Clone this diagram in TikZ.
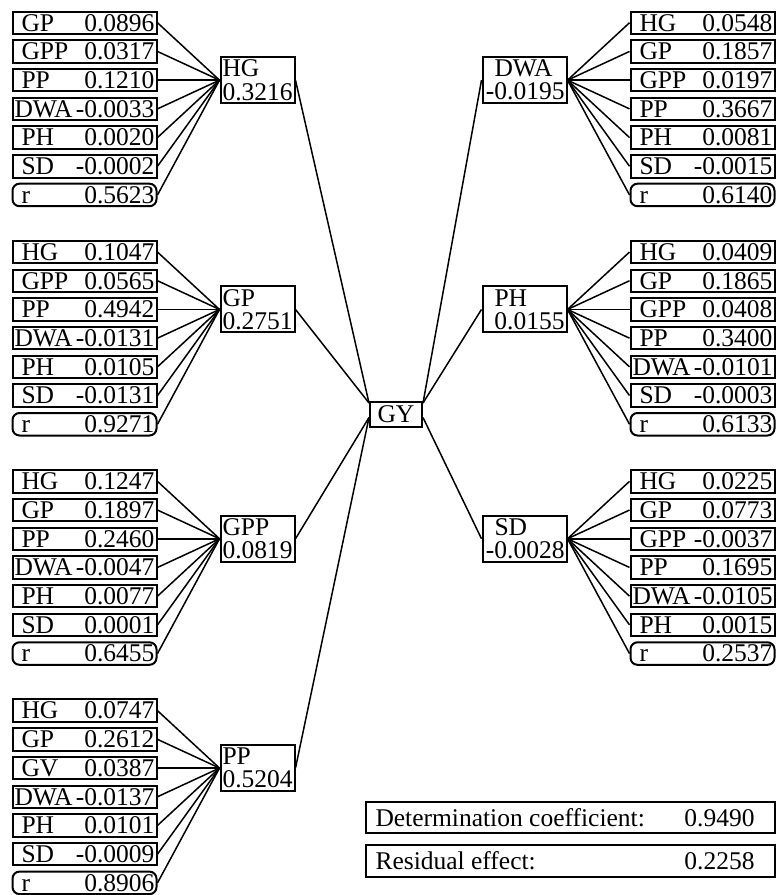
\documentclass[tikz,border=0pt]{standalone}
\usepackage{fontspec}
\setmainfont{Liberation Serif}
\usetikzlibrary{positioning}

\newcommand{\coef}[3][3.5pt]{\hbox to 70pt{\hskip#1\relax #2\hfil #3}}
\newcommand{\lpair}[2]{\vbox{\baselineskip=11.6pt\hbox to 35pt{#1\hfil}\hbox to 35pt{#2\hfil}}}
\newcommand{\rpair}[2]{\vbox{\baselineskip=11.6pt\hbox to 40pt{\hskip5pt\relax #1\hfil}\hbox to 40pt{\hfil #2}}}

\begin{document}
\begin{tikzpicture}[x=0.5pt,y=-0.5pt,node distance=14.35pt,
                    every node/.style={font=\fontsize{12.75}{11}\selectfont},
                    cell node/.style={draw,line width=1pt,inner xsep=1pt,inner ysep=1pt,
                                      text height=8.75pt,text depth=0.5pt},
                    ratio node/.style={cell node,rounded corners=3.5pt},
                    mid node/.style={draw,line width=1pt,inner sep=1pt,minimum height=23pt},
                    sum node/.style={draw,line width=1pt,inner xsep=1pt,minimum height=15.5pt},
                    link/.style={line width=0.75pt}]
\useasboundingbox (0,0) rectangle (776,895);

% HG
\node[cell node] (a1) at (84.5,22.75) {\coef{GP}{0.0896}};
\node[cell node] (a2) [below of=a1] {\coef{GPP}{0.0317}};
\node[cell node] (a3) [below of=a2] {\coef{PP}{0.1210}};
\node[cell node] (a4) [below of=a3] {\coef[0pt]{DWA}{-0.0033}};
\node[cell node] (a5) [below of=a4] {\coef{PH}{0.0020}};
\node[cell node] (a6) [below of=a5] {\coef{SD}{-0.0002}};
\node[ratio node] (a7) [below of=a6] {\coef{r}{0.5623}};
\node[mid node] (HG) [right=31pt of a3] {\lpair{HG}{0.3216}};

% GP
\node[cell node] (b1) at (84.5,252.05) {\coef{HG}{0.1047}};
\node[cell node] (b2) [below of=b1] {\coef{GPP}{0.0565}};
\node[cell node] (b3) [below of=b2] {\coef{PP}{0.4942}};
\node[cell node] (b4) [below of=b3] {\coef[0pt]{DWA}{-0.0131}};
\node[cell node] (b5) [below of=b4] {\coef{PH}{0.0105}};
\node[cell node] (b6) [below of=b5] {\coef{SD}{-0.0131}};
\node[ratio node] (b7) [below of=b6] {\coef{r}{0.9271}};
\node[mid node] (GP) [right=31pt of b3] {\lpair{GP}{0.2751}};

% GPP
\node[cell node] (c1) at (84.5,481.35) {\coef{HG}{0.1247}};
\node[cell node] (c2) [below of=c1] {\coef{GP}{0.1897}};
\node[cell node] (c3) [below of=c2] {\coef{PP}{0.2460}};
\node[cell node] (c4) [below of=c3] {\coef[0pt]{DWA}{-0.0047}};
\node[cell node] (c5) [below of=c4] {\coef{PH}{0.0077}};
\node[cell node] (c6) [below of=c5] {\coef{SD}{0.0001}};
\node[ratio node] (c7) [below of=c6] {\coef{r}{0.6455}};
\node[mid node] (GPP) [right=31pt of c3] {\lpair{GPP}{0.0819}};

% PP
\node[cell node] (d1) at (84.5,710.65) {\coef{HG}{0.0747}};
\node[cell node] (d2) [below of=d1] {\coef{GP}{0.2612}};
\node[cell node] (d3) [below of=d2] {\coef{GV}{0.0387}};
\node[cell node] (d4) [below of=d3] {\coef[0pt]{DWA}{-0.0137}};
\node[cell node] (d5) [below of=d4] {\coef{PH}{0.0101}};
\node[cell node] (d6) [below of=d5] {\coef{SD}{-0.0009}};
\node[ratio node] (d7) [below of=d6] {\coef{r}{0.8906}};
\node[mid node] (PP) [right=31pt of d3] {\lpair{PP}{0.5204}};

% DWA
\node[cell node] (e1) at (702.5,22.75) {\coef{HG}{0.0548}};
\node[cell node] (e2) [below of=e1] {\coef{GP}{0.1857}};
\node[cell node] (e3) [below of=e2] {\coef{GPP}{0.0197}};
\node[cell node] (e4) [below of=e3] {\coef{PP}{0.3667}};
\node[cell node] (e5) [below of=e4] {\coef{PH}{0.0081}};
\node[cell node] (e6) [below of=e5] {\coef{SD}{-0.0015}};
\node[ratio node] (e7) [below of=e6] {\coef{r}{0.6140}};
\node[mid node] (DWA) [left=31pt of e3] {\rpair{DWA}{-0.0195}};

% PH
\node[cell node] (f1) at (702.5,252.05) {\coef{HG}{0.0409}};
\node[cell node] (f2) [below of=f1] {\coef{GP}{0.1865}};
\node[cell node] (f3) [below of=f2] {\coef{GPP}{0.0408}};
\node[cell node] (f4) [below of=f3] {\coef{PP}{0.3400}};
\node[cell node] (f5) [below of=f4] {\coef[0pt]{DWA}{-0.0101}};
\node[cell node] (f6) [below of=f5] {\coef{SD}{-0.0003}};
\node[ratio node] (f7) [below of=f6] {\coef{r}{0.6133}};
\node[mid node] (PH) [left=31pt of f3] {\rpair{PH}{0.0155}};

% SD
\node[cell node] (g1) at (702.5,481.35) {\coef{HG}{0.0225}};
\node[cell node] (g2) [below of=g1] {\coef{GP}{0.0773}};
\node[cell node] (g3) [below of=g2] {\coef{GPP}{-0.0037}};
\node[cell node] (g4) [below of=g3] {\coef{PP}{0.1695}};
\node[cell node] (g5) [below of=g4] {\coef[0pt]{DWA}{-0.0105}};
\node[cell node] (g6) [below of=g5] {\coef{PH}{0.0015}};
\node[ratio node] (g7) [below of=g6] {\coef{r}{0.2537}};
\node[mid node] (SD) [left=31pt of g3] {\rpair{SD}{-0.0028}};

\node[draw,line width=1pt,inner sep=1pt,minimum width=26pt,minimum height=12.5pt] (GY) at (396,414.5) {GY};

\node[sum node] (det) at (570,817.5) {\hbox to 202.5pt{\hskip4pt\relax Determination coefficient:\hfil 0.9490\hskip9pt\relax}};
\node[sum node] (res) [below=5pt of det] {\hbox to 202.5pt{\hskip4pt\relax Residual effect:\hfil 0.2258\hskip9pt\relax}};

\path[link]
  (HG.west) edge (a1.east) edge (a2.east) edge (a3.east) edge (a4.east)
            edge (a5.east) edge (a6.east) edge (a7.east)
  (GP.west) edge (b1.east) edge (b2.east) edge (b3.east) edge (b4.east)
            edge (b5.east) edge (b6.east) edge (b7.east)
  (GPP.west) edge (c1.east) edge (c2.east) edge (c3.east) edge (c4.east)
             edge (c5.east) edge (c6.east) edge (c7.east)
  (PP.west) edge (d1.east) edge (d2.east) edge (d3.east) edge (d4.east)
            edge (d5.east) edge (d6.east) edge (d7.east)
  (DWA.east) edge (e1.west) edge (e2.west) edge (e3.west) edge (e4.west)
             edge (e5.west) edge (e6.west) edge (e7.west)
  (PH.east) edge (f1.west) edge (f2.west) edge (f3.west) edge (f4.west)
            edge (f5.west) edge (f6.west) edge (f7.west)
  (SD.east) edge (g1.west) edge (g2.west) edge (g3.west) edge (g4.west)
            edge (g5.west) edge (g6.west) edge (g7.west);

\path[link]
  ([yshift=-1pt]GY.north west) edge (HG.east) edge (GP.east)
  ([yshift=-1.5pt]GY.west) edge (GPP.east) edge (PP.east)
  ([yshift=-1pt]GY.north east) edge (DWA.west) edge (PH.west)
  ([yshift=-1.5pt]GY.east) edge (SD.west);
\end{tikzpicture}
\end{document}
